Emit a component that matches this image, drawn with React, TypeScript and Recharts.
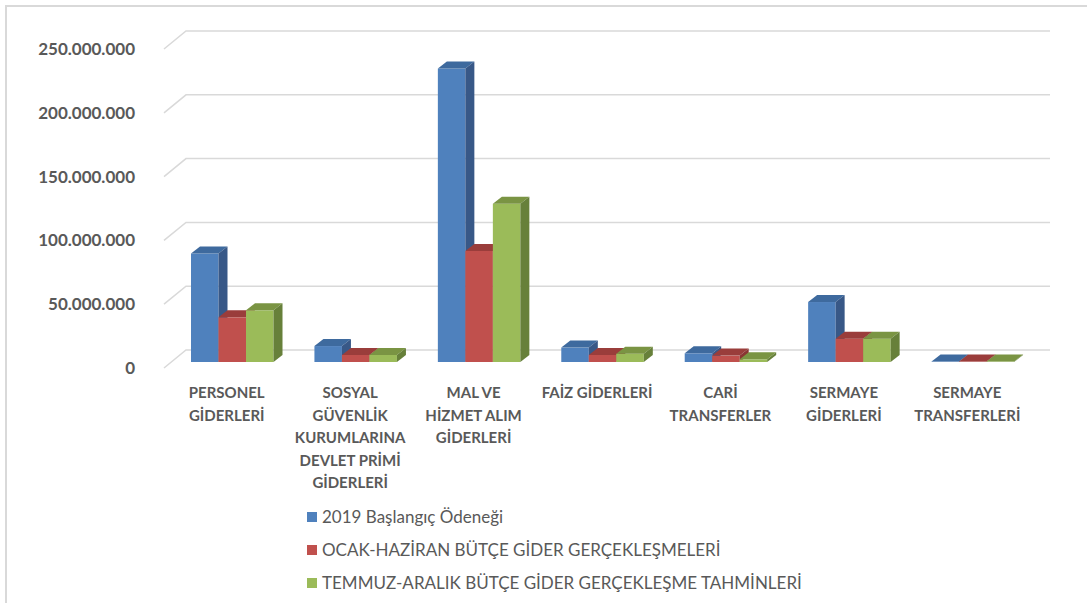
import React from 'react'
import { Bar, BarChart, CartesianGrid, Legend, XAxis, YAxis } from 'recharts'

const categories = [
  'PERSONEL GİDERLERİ',
  'SOSYAL GÜVENLİK KURUMLARINA DEVLET PRİMİ GİDERLERİ',
  'MAL VE HİZMET ALIM GİDERLERİ',
  'FAİZ GİDERLERİ',
  'CARİ TRANSFERLER',
  'SERMAYE GİDERLERİ',
  'SERMAYE TRANSFERLERİ',
]

// how Excel wrapped each category label
const categoryLines = [
  ['PERSONEL', 'GİDERLERİ'],
  ['SOSYAL', 'GÜVENLİK', 'KURUMLARINA', 'DEVLET PRİMİ', 'GİDERLERİ'],
  ['MAL VE', 'HİZMET ALIM', 'GİDERLERİ'],
  ['FAİZ GİDERLERİ'],
  ['CARİ', 'TRANSFERLER'],
  ['SERMAYE', 'GİDERLERİ'],
  ['SERMAYE', 'TRANSFERLERİ'],
]

const baslangic = [85000000, 12500000, 230000000, 11300000, 6800000, 47000000, 300000]
const ocakHaziran = [35000000, 5500000, 87000000, 5500000, 5000000, 18300000, 300000]
const temmuzAralik = [40500000, 5500000, 124000000, 6500000, 2100000, 18300000, 300000]

const seriesNames = [
  '2019 Başlangıç Ödeneği',
  'OCAK-HAZİRAN BÜTÇE GİDER GERÇEKLEŞMELERİ',
  'TEMMUZ-ARALIK BÜTÇE GİDER GERÇEKLEŞME TAHMİNLERİ',
]

const yTicks = [0, 50000000, 100000000, 150000000, 200000000, 250000000]

const data = categories.map((name, i) => ({
  name,
  a: baslangic[i],
  b: ocakHaziran[i],
  c: temmuzAralik[i],
}))

const colors = [
  { face: '#4F81BD', top: '#3E6A9E', side: '#385887' },
  { face: '#C0504D', top: '#9A3D3B', side: '#8A3533' },
  { face: '#9BBB59', top: '#7A9443', side: '#67803A' },
]

const DX = 9
const DY = 7
const DEPTH_X = 15
const DEPTH_Y = 12
const textColor = '#595959'

const fmt = (v: number) => String(v).replace(/\B(?=(\d{3})+(?!\d))/g, '.')

function make3dBar(c: { face: string; top: string; side: string }) {
  return (props: any) => {
    const { x, y, width, height } = props
    if (x == null || y == null) return <g />
    const w = width
    const h = Math.max(height, 0)
    return (
      <g>
        <rect x={x} y={y} width={w} height={h} fill={c.face} />
        <polygon
          points={`${x},${y} ${x + DX},${y - DY} ${x + w + DX},${y - DY} ${x + w},${y}`}
          fill={c.top}
        />
        <polygon
          points={`${x + w},${y} ${x + w + DX},${y - DY} ${x + w + DX},${y + h - DY} ${x + w},${y + h}`}
          fill={c.side}
        />
      </g>
    )
  }
}

const gridLine = (props: any) => {
  const { x1, x2, y1 } = props
  return (
    <path
      key={props.key ?? `g-${y1}`}
      d={`M${x1 - 7},${y1 + 6} L${x1 + DEPTH_X},${y1 - DEPTH_Y} L${x2 + DEPTH_X},${y1 - DEPTH_Y}`}
      stroke="#D9D9D9"
      strokeWidth={1.5}
      fill="none"
    />
  )
}

const YTick = (props: any) => {
  const { x, y, payload } = props
  return (
    <text
      x={x - 28}
      y={y + 6}
      dy="0.35em"
      textAnchor="end"
      fill={textColor}
      fontFamily="Lato, 'Open Sans', sans-serif"
      fontWeight={700}
      fontSize={17}
    >
      {fmt(payload.value)}
    </text>
  )
}

const XTick = (props: any) => {
  const { x, y, index } = props
  const lines = categoryLines[index] || []
  return (
    <g transform={`translate(${x - 6},${y})`}>
      {lines.map((l, i) => (
        <text
          key={i}
          x={0}
          y={28 + i * 22.5}
          textAnchor="middle"
          fill={textColor}
          fontFamily="Lato, sans-serif"
          fontWeight={700}
          fontSize={15}
        >
          {l}
        </text>
      ))}
    </g>
  )
}

const LegendContent = () => (
  <div style={{ fontFamily: 'Lato, sans-serif', fontSize: 17, color: textColor }}>
    {seriesNames.map((n, i) => (
      <div key={n} style={{ display: 'flex', alignItems: 'center', height: 33 }}>
        <span
          style={{ width: 10, height: 10, background: colors[i].face, display: 'inline-block', marginRight: 5 }}
        />
        {n}
      </div>
    ))}
  </div>
)

export default function App() {
  return (
    <div style={{ position: 'absolute', left: 0, top: 0, width: 1087, height: 603, background: '#fff', overflow: 'hidden' }}>
      <div
        style={{
          position: 'absolute',
          left: 5,
          top: 5,
          width: 1100,
          height: 620,
          borderTop: '2px solid #D9D9D9',
          borderLeft: '2px solid #D9D9D9',
        }}
      />
      <BarChart
        width={1087}
        height={603}
        data={data}
        margin={{ top: 43, right: 52, bottom: 240, left: 170 }}
        barGap={0}
        barSize={27.5}
        style={{ position: 'absolute', left: 0, top: 0 }}
      >
        <CartesianGrid vertical={false} horizontal={gridLine} />
        <XAxis dataKey="name" axisLine={false} tickLine={false} tick={<XTick />} interval={0} height={1} />
        <YAxis
          domain={[0, 250000000]}
          ticks={yTicks}
          axisLine={false}
          tickLine={false}
          tick={<YTick />}
          width={1}
          interval={0}
        />
        <Legend
          layout="vertical"
          verticalAlign="middle"
          align="center"
          content={<LegendContent />}
          wrapperStyle={{ position: 'absolute', left: 307, top: 500, width: 700 }}
        />
        <Bar dataKey="a" name={seriesNames[0]} fill={colors[0].face} shape={make3dBar(colors[0])} isAnimationActive={false} />
        <Bar dataKey="b" name={seriesNames[1]} fill={colors[1].face} shape={make3dBar(colors[1])} isAnimationActive={false} />
        <Bar dataKey="c" name={seriesNames[2]} fill={colors[2].face} shape={make3dBar(colors[2])} isAnimationActive={false} />
      </BarChart>
    </div>
  )
}
